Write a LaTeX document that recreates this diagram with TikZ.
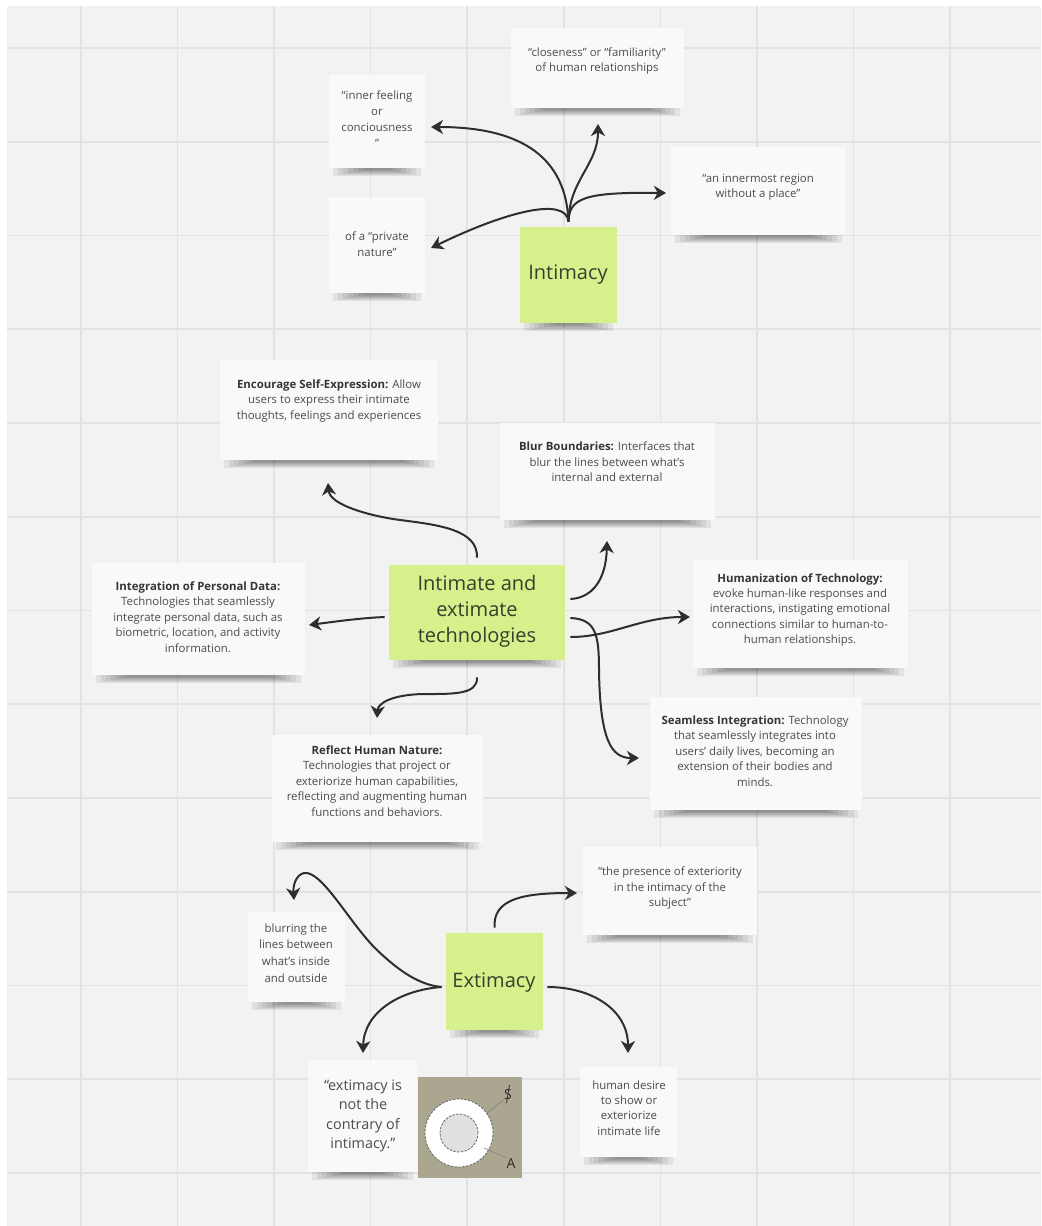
\documentclass[tikz,border=0pt]{standalone}
\usepackage{fontspec}
\setmainfont{Open Sans}
\usetikzlibrary{arrows.meta}

\definecolor{canvas}{HTML}{F2F2F2}
\definecolor{gridc}{HTML}{E2E2E2}
\definecolor{cardc}{HTML}{F8F9FA}
\definecolor{stickyc}{HTML}{D6F08C}
\definecolor{inkc}{HTML}{2E2E2E}
\definecolor{textc}{HTML}{4C4C4C}
\definecolor{headc}{HTML}{363636}
\definecolor{stxt}{HTML}{34412C}
\definecolor{khaki}{HTML}{ABA68F}

\newcommand\hd[1]{{\bfseries\color{headc}#1}}

% a board card: soft shadow under the bottom edge, then the card itself
% #1 name, #2 x1, #3 y1, #4 x2, #5 y2, #6 fill colour
\newcommand\boardcard[6]{%
  \foreach \k in {0,...,6}
    \fill[black, opacity=.065] (#2+4+5*\k,#5-3) rectangle (#4-4-5*\k,#5+8-\k);
  \node[fill=#6, inner sep=0pt, minimum width={(#4-#2)*0.5pt},
        minimum height={(#5-#3)*0.5pt}] (#1) at ({(#2+#4)/2},{(#3+#5)/2}) {};
}

\tikzset{
  x=0.5pt, y=-0.5pt,
  conn/.style={draw=inkc, line width=1pt,
    -{Stealth[length=6pt,width=7pt,inset=1.8pt]}},
  cardtext/.style={font=\fontsize{5.7}{7.7}\selectfont, text=textc,
    align=center, inner sep=0pt},
  bigtext/.style={font=\fontsize{7.2}{9.6}\selectfont, text=textc,
    align=center, inner sep=0pt},
  stickytext/.style={font=\fontsize{10}{13}\selectfont, text=stxt,
    align=center, inner sep=0pt},
}

\begin{document}
\begin{tikzpicture}
\useasboundingbox (0,0) rectangle (1041,1226);
\fill[white] (0,0) rectangle (1041,1226);
\fill[canvas] (7,6) rectangle (1041,1226);

% board grid
\foreach \i in {0,...,9}
  \draw[gridc, line width=0.8pt] ({81+96.55*\i},6) -- ({81+96.55*\i},1226);
\foreach \j in {0,...,12}
  \draw[gridc, line width=0.8pt] (7,{48+93.75*\j}) -- (1041,{48+93.75*\j});

% ---------- Intimacy cluster ----------
\boardcard{clos}{511}{28}{684}{108}{cardc}
\boardcard{inner}{329}{75}{425}{168}{cardc}
\boardcard{innermost}{671}{147}{846}{235}{cardc}
\boardcard{private}{329}{197}{425}{293}{cardc}
\boardcard{intim}{520}{227}{617}{323}{stickyc}

\node[cardtext] (closT) at (597,61) {“closeness” or “familiarity”\\of human relationships};
\node[cardtext, font=\fontsize{5.7}{8.1}\selectfont] (innerT) at (377,119) {“inner feeling\\or\\conciousness\\”};
\node[cardtext] (innermostT) at (758,187) {“an innermost region\\without a place”};
\node[cardtext] (privateT) at (377,244) {of a “private\\nature”};
\node[stickytext] (intimT) at (568,275) {Intimacy};

% ---------- technologies cluster ----------
\boardcard{encourage}{220}{360}{438}{460}{cardc}
\boardcard{blur}{500}{423}{715}{520}{cardc}
\boardcard{integr}{92}{563}{305}{675}{cardc}
\boardcard{human}{693}{560}{908}{668}{cardc}
\boardcard{tech}{389}{565}{565}{660}{stickyc}
\boardcard{seam}{650}{697}{862}{810}{cardc}
\boardcard{reflect}{272}{735}{483}{842}{cardc}

\node[cardtext] (encourageT) at (329,401) {\hd{Encourage Self-Expression:} Allow\\users to express their intimate\\thoughts, feelings and experiences};
\node[cardtext] (blurT) at (607,462) {\hd{Blur Boundaries:} Interfaces that\\blur the lines between what’s\\internal and external};
\node[cardtext] (integrT) at (198,617) {\hd{Integration of Personal Data:}\\Technologies that seamlessly\\integrate personal data, such as\\biometric, location, and activity\\information.};
\node[cardtext] (humanT) at (800,610) {\hd{Humanization of Technology:}\\evoke human-like responses and\\interactions, instigating emotional\\connections similar to human-to-\\human relationships.};
\node[cardtext] (seamT) at (755,751) {\hd{Seamless Integration:} Technology\\that seamlessly integrates into\\users’ daily lives, becoming an\\extension of their bodies and\\minds.};
\node[cardtext] (reflectT) at (377,781) {\hd{Reflect Human Nature:}\\Technologies that project or\\exteriorize human capabilities,\\reflecting and augmenting human\\functions and behaviors.};
\node[stickytext] (techT) at (477,611) {Intimate and\\extimate\\technologies};

% ---------- Extimacy cluster ----------
\boardcard{presence}{583}{847}{757}{935}{cardc}
\boardcard{blurring}{248}{912}{345}{1002}{cardc}
\boardcard{extim}{446}{933}{543}{1030}{stickyc}
\boardcard{contrary}{308}{1060}{417}{1172}{cardc}
\boardcard{desire}{580}{1067}{677}{1157}{cardc}

\node[cardtext] (presenceT) at (670,888) {“the presence of exteriority\\in the intimacy of the\\subject”};
\node[cardtext, font=\fontsize{5.7}{8.4}\selectfont] (blurringT) at (296,953) {blurring the\\lines between\\what’s inside\\and outside};
\node[stickytext] (extimT) at (494,983) {Extimacy};
\node[bigtext] (contraryT) at (363,1116) {“extimacy is\\not the\\contrary of\\intimacy.”};
\node[cardtext] (desireT) at (629,1108) {human desire\\to show or\\exteriorize\\intimate life};

% the Lacanian figure: subject S inside the Other A
\node[fill=khaki, inner sep=0pt, minimum width=52pt, minimum height=50.5pt] (lacan) at (470,1127.5) {};
\draw[inkc!75, line width=0.4pt, dash pattern=on 1.2pt off 0.7pt, fill=white] (459,1133) circle[radius=17pt];
\draw[inkc!75, line width=0.4pt, dash pattern=on 1.2pt off 0.7pt, fill=black!12] (459,1133) circle[radius=9.5pt];
\node[font=\fontsize{7}{8}\selectfont, text=inkc, inner sep=0pt] (lacS) at (508,1094) {S};
\draw[inkc, line width=0.4pt] (509.5,1085) -- (506.5,1103);
\node[font=\fontsize{7}{8}\selectfont, text=inkc, inner sep=0pt] (lacA) at (511,1163) {A};
\draw[inkc!60, line width=0.3pt] (lacS.south west) -- (486,1114);
\draw[inkc!60, line width=0.3pt] (484,1148) -- (lacA.north west);

% ---------- arrow end points ----------
\coordinate (tInner) at (431,127);
\coordinate (tClos) at (598,124);
\coordinate (tInnermost) at (666,193);
\coordinate (tPrivate) at (431,248);
\coordinate (tEncourage) at (328,483);
\coordinate (tBlur) at (607,541);
\coordinate (tHuman) at (690,617);
\coordinate (tSeam) at (639,758);
\coordinate (tIntegr) at (309,625);
\coordinate (tReflect) at (377,718);
\coordinate (tPresence) at (577,893);
\coordinate (tBlurring) at (294,900);
\coordinate (tContrary) at (363,1053);
\coordinate (tDesire) at (628,1053);

% ---------- connectors ----------
\draw[conn] ([yshift=2.5pt]intim.north) .. controls (566,160) and (525,127) .. (tInner);
\draw[conn] ([yshift=2.5pt]intim.north) .. controls (569,180) and (598,165) .. (tClos);
\draw[conn] ([yshift=2.5pt]intim.north) .. controls (569,198) and (585,192) .. (tInnermost);
\draw[conn] ([yshift=2.5pt]intim.north) .. controls (566,196) and (505,212) .. (tPrivate);

\draw[conn] ([yshift=3.5pt]tech.north) .. controls (478,530) and (440,525) .. (400,520)
  .. controls (370,516) and (330,505) .. (tEncourage);
\draw[conn] ([xshift=2.5pt,yshift=6.75pt]tech.east) .. controls (592,598) and (606,580) .. (tBlur);
\draw[conn] ([xshift=2.5pt,yshift=-12.25pt]tech.east) .. controls (612,637) and (640,617) .. (tHuman);
\draw[conn] ([xshift=2.5pt,yshift=-2.75pt]tech.east) .. controls (596,619) and (599,635) .. (599,670)
  .. controls (600,742) and (612,758) .. (tSeam);
\draw[conn] ([xshift=-2pt,yshift=-2.25pt]tech.west) .. controls (360,618) and (332,622) .. (tIntegr);
\draw[conn] ([yshift=-8.5pt]tech.south) .. controls (478,695) and (452,694) .. (422,694)
  .. controls (392,695) and (378,703) .. (tReflect);

\draw[conn] ([yshift=2.5pt]extim.north) .. controls (493,900) and (520,893) .. (tPresence);
\draw[conn] ([xshift=-2pt,yshift=-2.75pt]extim.west) .. controls (420,985) and (400,972) .. (377,950)
  .. controls (350,924) and (322,870) .. (304,873)
  .. controls (296,875) and (293,885) .. (tBlurring);
\draw[conn] ([xshift=-2pt,yshift=-2.75pt]extim.west) .. controls (400,990) and (364,1012) .. (tContrary);
\draw[conn] ([xshift=2pt,yshift=-2.75pt]extim.east) .. controls (592,987) and (628,1010) .. (tDesire);
\end{tikzpicture}
\end{document}
